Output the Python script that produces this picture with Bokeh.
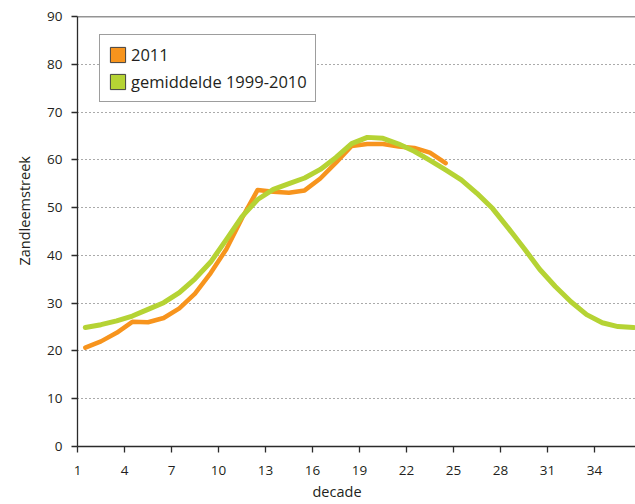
from bokeh.plotting import figure
from bokeh.models import (ColumnDataSource, FixedTicker, Legend, LegendItem,
                          Title, Span, Range1d)
from bokeh.transform import dodge
from bokeh.embed import file_html
from bokeh.resources import INLINE

# ---------------- data ----------------
decades_2011 = list(range(1, 25))
values_2011 = [20.7, 22.0, 23.8, 26.1, 26.0, 26.9, 28.9, 32.0, 36.3, 41.3,
               47.8, 53.7, 53.3, 53.1, 53.6, 56.1, 59.4, 62.9, 63.3, 63.3,
               62.8, 62.5, 61.5, 59.3]

decades_avg = list(range(1, 37))
values_avg = [24.9, 25.5, 26.3, 27.3, 28.7, 30.1, 32.2, 35.1, 38.6, 43.3,
              48.1, 51.7, 53.8, 55.0, 56.2, 58.0, 60.5, 63.4, 64.7, 64.5,
              63.3, 61.8, 59.9, 57.9, 55.8, 53.0, 49.8, 45.7, 41.5, 37.1,
              33.5, 30.3, 27.6, 25.9, 25.1, 24.9]

x_ticks = list(range(1, 35, 3))
y_ticks = list(range(0, 91, 10))
series_names = ["2011", "gemiddelde 1999-2010"]
x_title = "decade"
y_title = "Zandleemstreek"

# ---------------- style ----------------
FONT = "Open Sans"
ORANGE = "#F7941D"
GREEN = "#B5D334"
DARK = "#2b2b2b"
TEXT = "#231F20"

src_2011 = ColumnDataSource(dict(decade=decades_2011, value=values_2011))
src_avg = ColumnDataSource(dict(decade=decades_avg, value=values_avg))

p = figure(width=635, height=504,
           x_range=Range1d(1, 36.62), y_range=Range1d(0, 90),
           output_backend="svg", toolbar_location=None,
           min_border_left=77, min_border_right=0,
           min_border_top=16, min_border_bottom=58)
p.background_fill_color = "white"
p.border_fill_color = "white"
p.outline_line_color = None

# lines (points sit in the middle of each decade slot)
p.line(x=dodge("decade", 0.5), y="value", source=src_2011,
       line_color=ORANGE, line_width=4.5, line_join="round", line_cap="round")
p.line(x=dodge("decade", 0.5), y="value", source=src_avg,
       line_color=GREEN, line_width=5, line_join="round", line_cap="round")

# legend-only square glyphs (hidden renderers, shown only in the legend)
leg_o = p.vbar(x=dodge("decade", 0.5), top="value", width=0.5, source=src_2011,
               fill_color=ORANGE, line_color="#404040", line_width=1,
               visible=False)
leg_g = p.vbar(x=dodge("decade", 0.5), top="value", width=0.5, source=src_avg,
               fill_color=GREEN, line_color="#404040", line_width=1,
               visible=False)

legend = Legend(items=[LegendItem(label=series_names[0], renderers=[leg_o]),
                       LegendItem(label=series_names[1], renderers=[leg_g])],
                location=(22, 344), orientation="vertical",
                glyph_width=19, glyph_height=19, label_height=20,
                label_standoff=4, spacing=4, padding=8, margin=0,
                border_line_color="#3c3c3c", border_line_width=1,
                background_fill_color="white", background_fill_alpha=1,
                label_text_font=FONT, label_text_font_size="16.5px",
                label_text_color=TEXT)
p.add_layout(legend)

# top border
p.add_layout(Span(location=90, dimension="width", line_color=DARK,
                  line_width=1.3))

# grid
p.xgrid.visible = False
p.ygrid.ticker = FixedTicker(ticks=y_ticks)
p.ygrid.grid_line_color = "#555555"
p.ygrid.grid_line_dash = "1 3"
p.ygrid.grid_line_width = 1

# axes
for ax in (p.xaxis[0], p.yaxis[0]):
    ax.axis_line_color = DARK
    ax.axis_line_width = 1.3
    ax.major_tick_line_color = DARK
    ax.major_tick_line_width = 1.3
    ax.major_tick_in = 0
    ax.major_tick_out = 6
    ax.minor_tick_line_color = None
    ax.major_label_text_font = FONT
    ax.major_label_text_font_size = "13.5px"
    ax.major_label_text_color = TEXT

p.xaxis.ticker = FixedTicker(ticks=x_ticks)
p.xaxis.major_label_standoff = 13
p.yaxis.ticker = FixedTicker(ticks=y_ticks)
p.yaxis.major_label_standoff = 9

# axis titles as side titles (offset to match the reference position)
p.add_layout(Title(text=x_title, align="left", offset=235, standoff=5,
                   text_font=FONT, text_font_size="14.5px",
                   text_font_style="normal", text_color=TEXT), "below")
p.add_layout(Title(text=y_title, align="left", offset=181, standoff=22,
                   text_font=FONT, text_font_size="14.5px",
                   text_font_style="normal", text_color=TEXT), "left")

open("out.html", "w").write(file_html(p, INLINE))
